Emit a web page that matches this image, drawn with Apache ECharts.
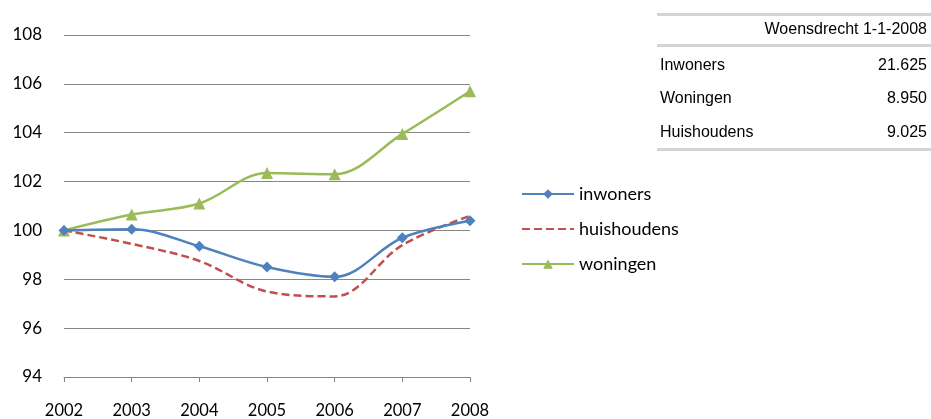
<!DOCTYPE html>
<html>
<head>
<meta charset="utf-8">
<script src="https://cdn.jsdelivr.net/npm/echarts@6/dist/echarts.min.js"></script>
<style>
  html, body { margin: 0; padding: 0; background: #fff; }
  #chart { width: 931px; height: 419px; }
</style>
</head>
<body>
<div id="chart"></div>
<script>
// chart data
const years = ['2002', '2003', '2004', '2005', '2006', '2007', '2008']
const inwoners = [100, 100.05, 99.35, 98.5, 98.1, 99.7, 100.4]
const huishoudens = [100, 99.45, 98.75, 97.5, 97.3, 99.4, 100.6]
const woningen = [100, 100.65, 101.1, 102.35, 102.3, 103.95, 105.7]

// side table
const tableTitle = 'Woensdrecht 1-1-2008'
const tableLabels = ['Inwoners', 'Woningen', 'Huishoudens']
const tableValues = ['21.625', '8.950', '9.025']

const chart = echarts.init(document.getElementById('chart'))

const lineColor = '#d4d4d4'
const rowY = [66, 99, 133]
const cell = (x, y, text, align) => ({
  type: 'text', x: x, y: y,
  style: { text: text, fontFamily: 'Liberation Sans', fontSize: 16, fill: '#000', align: align, verticalAlign: 'middle' }
})

let graphic = [
  { type: 'rect', shape: { x: 657, y: 13, width: 274, height: 3 }, style: { fill: lineColor } },
  { type: 'rect', shape: { x: 657, y: 44, width: 274, height: 3 }, style: { fill: lineColor } },
  { type: 'rect', shape: { x: 657, y: 148, width: 274, height: 3 }, style: { fill: lineColor } },
  cell(927, 30, tableTitle, 'right')
]
tableLabels.forEach((label, i) => {
  graphic.push(cell(660, rowY[i], label, 'left'))
  graphic.push(cell(927, rowY[i], tableValues[i], 'right'))
})

chart.setOption({
  backgroundColor: '#fff',
  animation: false,
  textStyle: { fontFamily: 'Lato, "Open Sans", sans-serif' },
  grid: { left: 64, right: 461, top: 35, bottom: 42 },
  legend: {
    orient: 'vertical',
    left: 516,
    top: 179,
    itemWidth: 52,
    itemHeight: 12,
    itemGap: 15,
    textStyle: { fontSize: 18, color: '#000', lineHeight: 20 },
    data: [
      { name: 'inwoners' },
      // dashed line only, hide the legend symbol
      { name: 'huishoudens', itemStyle: { color: 'rgba(0,0,0,0)', borderWidth: 0 } },
      { name: 'woningen' }
    ]
  },
  xAxis: {
    type: 'category',
    data: years,
    boundaryGap: false,
    axisLine: { lineStyle: { color: '#868686', width: 1 } },
    axisTick: { show: true, alignWithLabel: true, length: 5, lineStyle: { color: '#868686' } },
    axisLabel: { color: '#000', fontSize: 16.5, margin: 25 },
    splitLine: { show: false }
  },
  yAxis: {
    type: 'value',
    min: 94,
    max: 108,
    interval: 2,
    axisLine: { show: false },
    axisTick: { show: false },
    axisLabel: { color: '#000', fontSize: 17, margin: 22 },
    splitLine: { lineStyle: { color: '#868686', width: 1 } }
  },
  series: [
    {
      name: 'inwoners',
      type: 'line',
      data: inwoners,
      smooth: 0.35,
      symbol: 'diamond',
      symbolSize: 11,
      lineStyle: { color: '#4F81BD', width: 2.5 },
      itemStyle: { color: '#4F81BD' },
      z: 3
    },
    {
      name: 'huishoudens',
      type: 'line',
      data: huishoudens,
      smooth: 0.35,
      symbol: 'none',
      lineStyle: { color: '#C0504D', width: 2.5, type: [8, 4] },
      itemStyle: { color: '#C0504D' },
      z: 2
    },
    {
      name: 'woningen',
      type: 'line',
      data: woningen,
      smooth: 0.35,
      symbol: 'triangle',
      symbolSize: 12,
      lineStyle: { color: '#9BBB59', width: 2.5 },
      itemStyle: { color: '#9BBB59' },
      z: 2
    }
  ],
  graphic: graphic
})
</script>
</body>
</html>
